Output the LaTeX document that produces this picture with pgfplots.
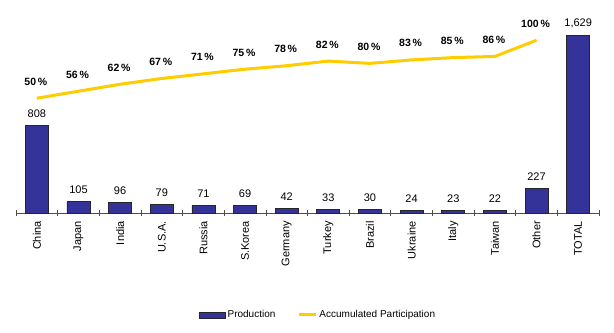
\documentclass[border=0pt]{standalone}
\usepackage{pgfplots}
\pgfplotsset{compat=1.18}
\usepackage{fontspec}
\setmainfont{Liberation Sans}
\definecolor{barblue}{RGB}{51,51,153}
\definecolor{lineyellow}{RGB}{255,204,0}
\begin{document}
\begin{tikzpicture}
\begin{axis}[name=main,
  scale only axis, width=583pt, height=196pt,
  xmin=-0.5, xmax=13.5, ymin=0, ymax=1800,
  axis x line=bottom, axis y line=none,
  axis line style={-, draw=black!70},
  xtick={-0.5,0.5,...,13.5},
  xticklabels={},
  major tick length=6pt, tick align=center,
  major tick style={draw=black!70, line width=0.6pt},
  extra x ticks={0,...,13},
  extra x tick labels={China,Japan,India,U.S.A.,Russia,S.Korea,Germany,Turkey,Brazil,Ukraine,Italy,Taiwan,Other,TOTAL},
  extra x tick style={major tick length=0pt, tick label style={rotate=90, anchor=east, font=\fontsize{11}{13}\selectfont, inner sep=0pt, xshift=-8pt}},
  /pgf/number format/assume math mode=true,
  legend style={at={(0.518,-0.52)}, anchor=center, draw=none, font=\fontsize{10}{12}\selectfont, legend columns=2, /tikz/every even column/.append style={column sep=20pt}},
  legend cell align=left,
]
\addplot[ybar, bar width=23pt, fill=barblue, draw=black!85, line width=0.7pt,
  nodes near coords, nodes near coords style={font=\fontsize{11}{13}\selectfont, black, yshift=4pt},
  legend image code/.code={\draw[fill=barblue, draw=black!85, line width=0.7pt] (0pt,-3pt) rectangle (26pt,3pt);}]
coordinates {(0,808) (1,105) (2,96) (3,79) (4,71) (5,69) (6,42) (7,33) (8,30) (9,24) (10,23) (11,22) (12,227) (13,1629)};
\addlegendentry{Production}
\addlegendimage{line legend, lineyellow, line width=3pt}
\addlegendentry{Accumulated Participation}
\end{axis}
\begin{axis}[
  scale only axis, width=583pt, height=196pt,
  xmin=-0.5, xmax=13.5, ymin=-49, ymax=120,
  hide axis,
  /pgf/number format/assume math mode=true,
]
\addplot[lineyellow, line width=3pt, mark=none,
  nodes near coords={\pgfmathprintnumber{\pgfplotspointmeta}\,\%},
  nodes near coords style={font=\fontsize{10.5}{12}\selectfont\bfseries, black, yshift=8pt, xshift=-1pt}]
coordinates {(0,50) (1,56) (2,62) (3,67) (4,71) (5,75) (6,78) (7,82) (8,80) (9,83) (10,85) (11,86) (12,100)};
\end{axis}
\pgfresetboundingbox
\path[use as bounding box] ([xshift=-16pt,yshift=-119pt]main.south west) rectangle ([xshift=15pt,yshift=17pt]main.north east);
\end{tikzpicture}
\end{document}
